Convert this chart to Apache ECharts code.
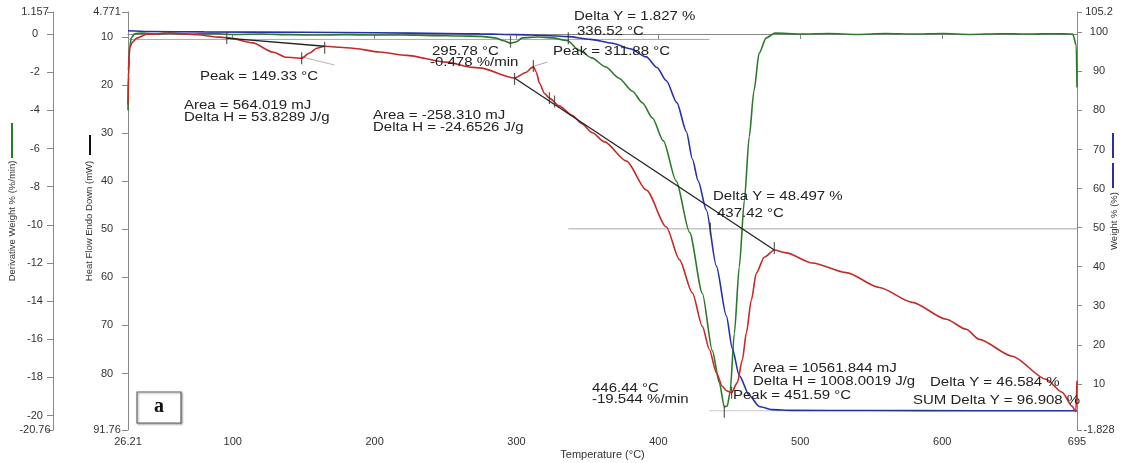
<!DOCTYPE html>
<html>
<head>
<meta charset="utf-8">
<script src="https://cdn.jsdelivr.net/npm/echarts@6/dist/echarts.min.js"></script>
<style>
  html, body { margin: 0; padding: 0; background: #fff; }
  #chart { width: 1127px; height: 463px; }
</style>
</head>
<body>
<div id="chart"></div>
<script>
// tick labels
var tempTicks = [26.21, 100, 200, 300, 400, 500, 600, 695];
var heatTicks = [4.771, 10, 20, 30, 40, 50, 60, 70, 80, 91.76];
var derivTicks = [1.157, 0, -2, -4, -6, -8, -10, -12, -14, -16, -18, -20, -20.76];
var weightTicks = [105.2, 100, 90, 80, 70, 60, 50, 40, 30, 20, 10, -1.828];

// green: derivative weight % (%/min) vs temperature
var derivCurve = [
  [26.21, -4.0], [26.6, -2.2], [27.3, -0.8], [28.5, -0.2], [31, 0.02], [36, 0.05], [45, 0.0],
  [55, 0.05], [70, 0.0], [85, 0.03], [100, -0.02], [120, 0.0], [140, -0.03], [160, -0.05],
  [180, -0.03], [200, -0.05], [220, -0.05], [240, -0.08], [260, -0.1], [275, -0.12], [285, -0.2],
  [291, -0.35], [295.78, -0.478], [300, -0.4], [304, -0.2], [315, -0.15], [325, -0.2],
  [336, -0.35], [344, -0.84], [353, -1.25], [363, -1.73], [372, -2.3], [381.7, -3.0],
  [388.7, -3.6], [395.8, -4.4], [403.5, -5.6], [412.5, -7.7], [422, -10.4], [431, -13.6],
  [438, -16.6], [443, -18.3], [446.44, -19.544], [448.5, -19.5], [450.5, -18.8], [453.5, -15.7],
  [457, -12.2], [460.6, -8.7], [464, -5.4], [467.3, -3.0], [471, -1.0], [476, -0.2], [482, 0.05],
  [500, 0.0], [520, 0.03], [540, -0.02], [560, 0.03], [580, 0.0], [600, 0.03], [620, -0.02],
  [640, 0.02], [660, 0.0], [680, 0.02], [692, 0.0], [694.5, -0.6], [695, -2.8]
];

// blue: weight % vs temperature
var weightCurve = [
  [26.21, 100.4], [40, 100.2], [80, 100.1], [150, 100.0], [200, 99.9], [250, 99.7], [274, 99.6],
  [300, 99.4], [320, 99.2], [336.52, 98.9], [352, 98.2], [367.6, 97.2], [380, 95.8],
  [391.5, 93.7], [399, 91.0], [405.6, 87.6], [413, 82], [419.7, 74.6], [424, 67.5], [428, 62],
  [433.8, 54.5], [440.8, 40.2], [447.9, 27.4], [452.1, 19.0], [457, 12.1], [464.1, 7.0],
  [471.1, 4.2], [480, 3.4], [494, 3.2], [550, 3.15], [620, 3.1], [695, 3.09]
];

// red: heat flow (mW) vs temperature
var heatCurve = [
  [26.21, 24], [26.5, 17], [27, 13.5], [27.5, 12.1], [29.5, 11.0], [32.4, 10.2], [39.4, 9.4],
  [55.6, 9.2], [75, 9.5], [90.8, 10.0], [97.9, 10.2], [114.1, 11.2], [128.2, 13.1], [138, 14.2],
  [148.6, 14.4], [154.2, 13.3], [159.2, 12.3], [164.8, 11.9], [175.4, 12.1], [184.5, 12.3],
  [203.5, 13.1], [222.5, 13.8], [250.7, 15.2], [269, 16.3], [273.9, 16.4], [298.6, 18.5],
  [307, 17.3], [310.6, 16.4], [311.88, 16.1], [314, 17.3], [316.2, 19.6], [319.7, 21.7],
  [323.2, 22.7], [330, 24.3], [339.4, 26.3], [346, 28.0], [353.5, 29.9], [362, 31.8],
  [377.5, 35.8], [391.5, 41.8], [405.6, 49.5], [414.8, 56.3], [423.9, 63.2], [431, 70.2],
  [435.9, 75.0], [440.8, 79.8], [445.1, 82.7], [448, 83.6], [451.59, 84.0], [455.6, 81.9],
  [459.2, 77.1], [462, 71.5], [465.5, 64.7], [469, 59.1], [474.6, 55.8], [481.7, 54.3],
  [490.1, 54.9], [508.5, 57.0], [532.4, 59.0], [555.6, 62.1], [578.9, 65.2], [602.8, 68.7],
  [616.9, 70.8], [626.1, 72.9], [649.3, 76.4], [673.2, 81.2], [684.5, 83.9], [691.5, 86.8],
  [694.2, 87.9], [695, 81.5]
];

// integration baselines (heat flow)
var baseline1 = [[95.8, 10.2], [164.8, 11.9]];
var baseline2 = [[298.6, 18.5], [481.7, 54.3]];
var tangent1 = [[148.4, 14.1], [171.8, 15.8]];
var tangent2 = [[312.7, 16.0], [321.8, 15.2]];

// delta Y step lines (weight)
var step1 = [[26.21, 98.173], [436, 98.173]];
var step2 = [[336.52, 49.676], [695, 49.676]];
var step3 = [[436, 3.09], [695, 3.09]];

// little vertical markers
var heatMarks = [[95.8, 10.2], [148.6, 14.4], [164.8, 12.2], [298.6, 18.7], [311.88, 16.0],
  [323.2, 22.7], [326.8, 23.4], [481.7, 53.9], [451.59, 84.0]];
var weightMarks = [[336.52, 98.5], [436.6, 49.7]];
var derivMarks = [[295.78, -0.4], [446.44, -19.8]];

var GREEN = '#2b7a2b';
var RED = '#c42a26';
var BLUE = '#2630a8';
var FONT = 'Liberation Sans, Arial, sans-serif';

var chart = echarts.init(document.getElementById('chart'));

function plainLine(data, yIdx, color, width, z) {
  return {
    type: 'line', data: data, yAxisIndex: yIdx, showSymbol: false, symbol: 'none',
    silent: true, z: z || 2, lineStyle: { color: color, width: width }
  };
}
function curve(data, yIdx, color) {
  var s = plainLine(data, yIdx, color, 1.6, 3);
  s.smooth = 0.25;
  s.smoothMonotone = 'x';
  return s;
}
function marks(data, yIdx) {
  return {
    type: 'scatter', data: data, yAxisIndex: yIdx, symbol: 'rect', symbolSize: [1.2, 12],
    silent: true, z: 5, itemStyle: { color: '#333' }
  };
}

function yAxisBase(opt) {
  return Object.assign({
    type: 'value',
    nameLocation: 'middle',
    nameRotate: 90,
    nameMoveOverlap: false,
    nameTextStyle: { fontSize: 9.5, color: '#333', fontFamily: FONT },
    axisLine: { show: true, lineStyle: { color: '#888' } },
    splitLine: { show: false }
  }, opt);
}

// annotation text, left x, middle y
var notes = [
  ['Peak = 149.33 °C', 200, 77],
  ['Area = 564.019 mJ', 184, 106],
  ['Delta H = 53.8289 J/g', 184, 118],
  ['295.78 °C', 432, 52],
  ['-0.478 %/min', 430, 63],
  ['Area = -258.310 mJ', 373, 116],
  ['Delta H = -24.6526 J/g', 373, 128],
  ['Delta Y = 1.827 %', 574, 17],
  ['336.52 °C', 577, 32],
  ['Peak = 311.88 °C', 553, 52],
  ['Delta Y = 48.497 %', 713, 197],
  ['437.42 °C', 717, 214],
  ['Area = 10561.844 mJ', 753, 369],
  ['Delta H = 1008.0019 J/g', 753, 382],
  ['Peak = 451.59 °C', 733, 396],
  ['446.44 °C', 592, 389],
  ['-19.544 %/min', 592, 400],
  ['Delta Y = 46.584 %', 930, 383],
  ['SUM Delta Y = 96.908 %', 913, 401]
];

var graphics = notes.map(function (n) {
  return {
    type: 'text', x: n[1], y: n[2], scaleX: 1.25, z: 10, silent: true,
    style: { text: n[0], font: '12px ' + FONT, fill: '#222', textVerticalAlign: 'middle' }
  };
});
// little legend strokes next to the axis names
graphics.push({ type: 'rect', shape: { x: 11, y: 123, width: 2, height: 35 }, style: { fill: GREEN } });
graphics.push({ type: 'rect', shape: { x: 89, y: 135, width: 2, height: 20 }, style: { fill: '#111' } });
graphics.push({ type: 'rect', shape: { x: 1112, y: 133, width: 2, height: 25 }, style: { fill: BLUE } });
graphics.push({ type: 'rect', shape: { x: 1112, y: 163, width: 2, height: 25 }, style: { fill: BLUE } });
// panel letter
graphics.push({
  type: 'rect', shape: { x: 137, y: 392, width: 44, height: 31 },
  style: { fill: '#fff', stroke: '#666', lineWidth: 1.2, shadowBlur: 2, shadowOffsetX: 1, shadowOffsetY: 1, shadowColor: 'rgba(0,0,0,0.35)' }
});
graphics.push({
  type: 'text', x: 159, y: 407,
  style: { text: 'a', font: 'bold 20px Liberation Serif, serif', fill: '#111', textAlign: 'center', textVerticalAlign: 'middle' }
});

var option = {
  backgroundColor: '#fff',
  animation: false,
  grid: { left: 128, right: 50, top: 12, bottom: 33, outerBoundsMode: 'none' },
  xAxis: {
    type: 'value', min: 26.21, max: 695,
    name: 'Temperature (°C)', nameLocation: 'middle', nameGap: 19, nameMoveOverlap: false,
    nameTextStyle: { fontSize: 11, color: '#333', fontFamily: FONT },
    axisLine: { show: true, lineStyle: { color: '#888' } },
    axisTick: { show: true, length: 5, customValues: tempTicks, lineStyle: { color: '#888' } },
    axisLabel: { customValues: tempTicks, fontSize: 11, color: '#333', fontFamily: FONT, margin: 6 },
    splitLine: { show: false }
  },
  yAxis: [
    yAxisBase({
      position: 'left', inverse: true, min: 4.771, max: 91.76,
      name: 'Heat Flow Endo Down (mW)', nameGap: 34,
      axisTick: { show: true, length: 6, customValues: heatTicks, lineStyle: { color: '#888' } },
      axisLabel: { customValues: heatTicks, fontSize: 11, color: '#333', fontFamily: FONT, align: 'center', margin: 21 }
    }),
    yAxisBase({
      position: 'left', offset: 75, min: -20.76, max: 1.157,
      name: 'Derivative Weight % (%/min)', nameGap: 36,
      axisTick: { show: true, length: 6, customValues: derivTicks, lineStyle: { color: '#888' } },
      axisLabel: { customValues: derivTicks, fontSize: 11, color: '#333', fontFamily: FONT, align: 'center', margin: 18 }
    }),
    yAxisBase({
      position: 'right', min: -1.828, max: 105.2,
      name: 'Weight % (%)', nameGap: 32,
      axisTick: { show: true, length: 5, customValues: weightTicks, lineStyle: { color: '#888' } },
      axisLabel: { customValues: weightTicks, fontSize: 11, color: '#333', fontFamily: FONT, align: 'center', margin: 22 }
    })
  ],
  series: [
    plainLine(step1, 2, '#a8a8a8', 1, 1),
    plainLine(step2, 2, '#a8a8a8', 1, 1),
    plainLine(step3, 2, '#c8c8c8', 1, 1),
    plainLine(tangent1, 0, '#bdbdbd', 1.2, 1),
    plainLine(tangent2, 0, '#aaaaaa', 1, 1),
    curve(derivCurve, 1, GREEN),
    curve(weightCurve, 2, BLUE),
    curve(heatCurve, 0, RED),
    plainLine(baseline1, 0, '#222', 1.3, 4),
    plainLine(baseline2, 0, '#222', 1.3, 4),
    marks(heatMarks, 0),
    marks(weightMarks, 2),
    marks(derivMarks, 1)
  ],
  graphic: graphics
};

chart.setOption(option);
</script>
</body>
</html>
